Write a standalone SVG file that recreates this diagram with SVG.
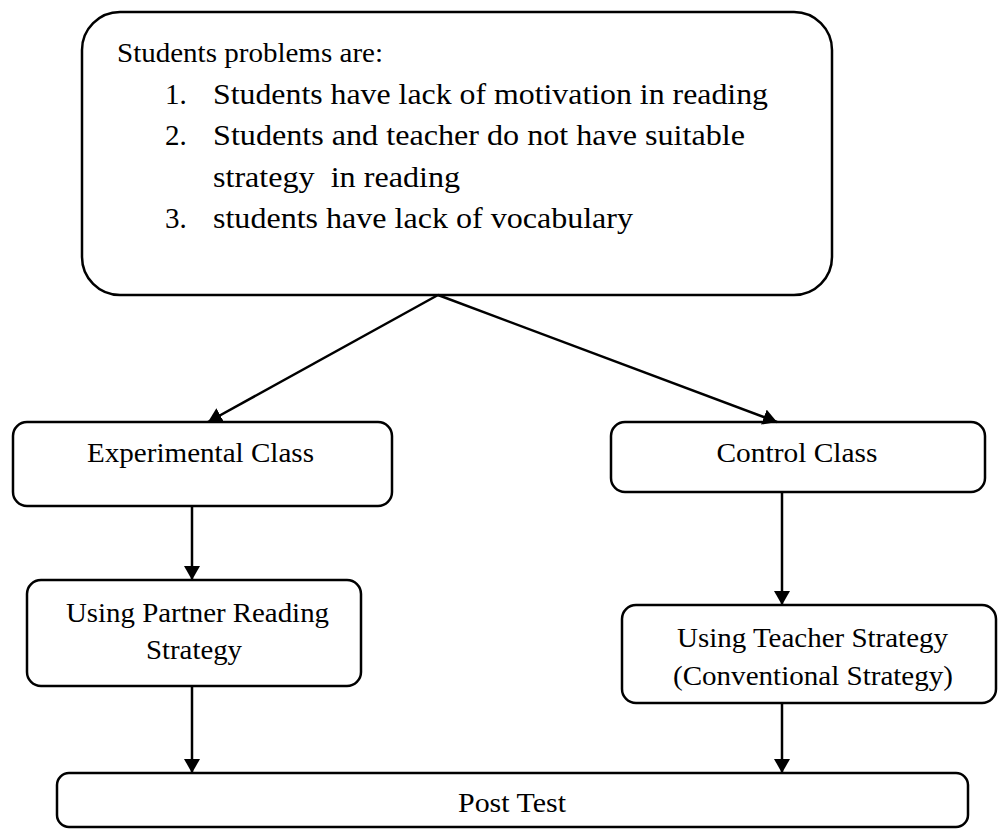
<svg xmlns="http://www.w3.org/2000/svg" width="998" height="830" viewBox="0 0 998 830">
<defs>
<marker id="ah" viewBox="0 0 14 16" refX="14" refY="8" markerWidth="14" markerHeight="16" markerUnits="userSpaceOnUse" orient="auto">
<path d="M0,0 L14,8 L0,16 z" fill="#000"/>
</marker>
</defs>
<style>
.box{fill:#fff;stroke:#000;stroke-width:2.5}
.t{font-family:"Liberation Serif","Times New Roman",serif;fill:#000;white-space:pre}
.m{text-anchor:middle;font-size:28px}
.l{font-size:29px}
.conn line{stroke:#000;stroke-width:2.5;marker-end:url(#ah)}
</style>
<rect width="998" height="830" fill="#fff"/>
<g id="problems">
<rect class="box" x="82" y="12" width="750" height="283" rx="38"/>
<text class="t" x="117" y="62" font-size="27" textLength="266" lengthAdjust="spacingAndGlyphs">Students problems are:</text>
<text class="t l" x="165" y="104">1.</text>
<text class="t l" x="213" y="104" textLength="555" lengthAdjust="spacingAndGlyphs">Students have lack of motivation in reading</text>
<text class="t l" x="165" y="145">2.</text>
<text class="t l" x="213" y="145" textLength="532" lengthAdjust="spacingAndGlyphs">Students and teacher do not have suitable</text>
<text class="t l" x="213" y="187" textLength="247" lengthAdjust="spacingAndGlyphs">strategy  in reading</text>
<text class="t l" x="165" y="228">3.</text>
<text class="t l" x="213" y="228" textLength="420" lengthAdjust="spacingAndGlyphs">students have lack of vocabulary</text>
</g>
<g id="experimental">
<rect class="box" x="13" y="422" width="379" height="84" rx="14"/>
<text class="t m" x="200.5" y="462" textLength="227" lengthAdjust="spacingAndGlyphs">Experimental Class</text>
</g>
<g id="control">
<rect class="box" x="611" y="422" width="374" height="70" rx="14"/>
<text class="t m" x="797" y="462" textLength="161" lengthAdjust="spacingAndGlyphs">Control Class</text>
</g>
<g id="partner">
<rect class="box" x="27" y="580" width="334" height="106" rx="14"/>
<text class="t m" x="197.5" y="622" textLength="263" lengthAdjust="spacingAndGlyphs">Using Partner Reading</text>
<text class="t m" x="194" y="659" textLength="96" lengthAdjust="spacingAndGlyphs">Strategy</text>
</g>
<g id="teacher">
<rect class="box" x="622" y="605" width="374" height="98" rx="14"/>
<text class="t m" x="812.5" y="647" textLength="271" lengthAdjust="spacingAndGlyphs">Using Teacher Strategy</text>
<text class="t m" x="813" y="685" textLength="280" lengthAdjust="spacingAndGlyphs">(Conventional Strategy)</text>
</g>
<g id="posttest">
<rect class="box" x="57" y="773" width="911" height="54" rx="12"/>
<text class="t m" x="512" y="812" textLength="108" lengthAdjust="spacingAndGlyphs">Post Test</text>
</g>
<g id="connectors" class="conn">
<line x1="438" y1="295" x2="208" y2="422"/>
<line x1="438" y1="295" x2="777" y2="422"/>
<line x1="192" y1="506" x2="192" y2="580"/>
<line x1="782" y1="492" x2="782" y2="605"/>
<line x1="192" y1="686" x2="192" y2="773"/>
<line x1="782" y1="703" x2="782" y2="773"/>
</g>
</svg>
